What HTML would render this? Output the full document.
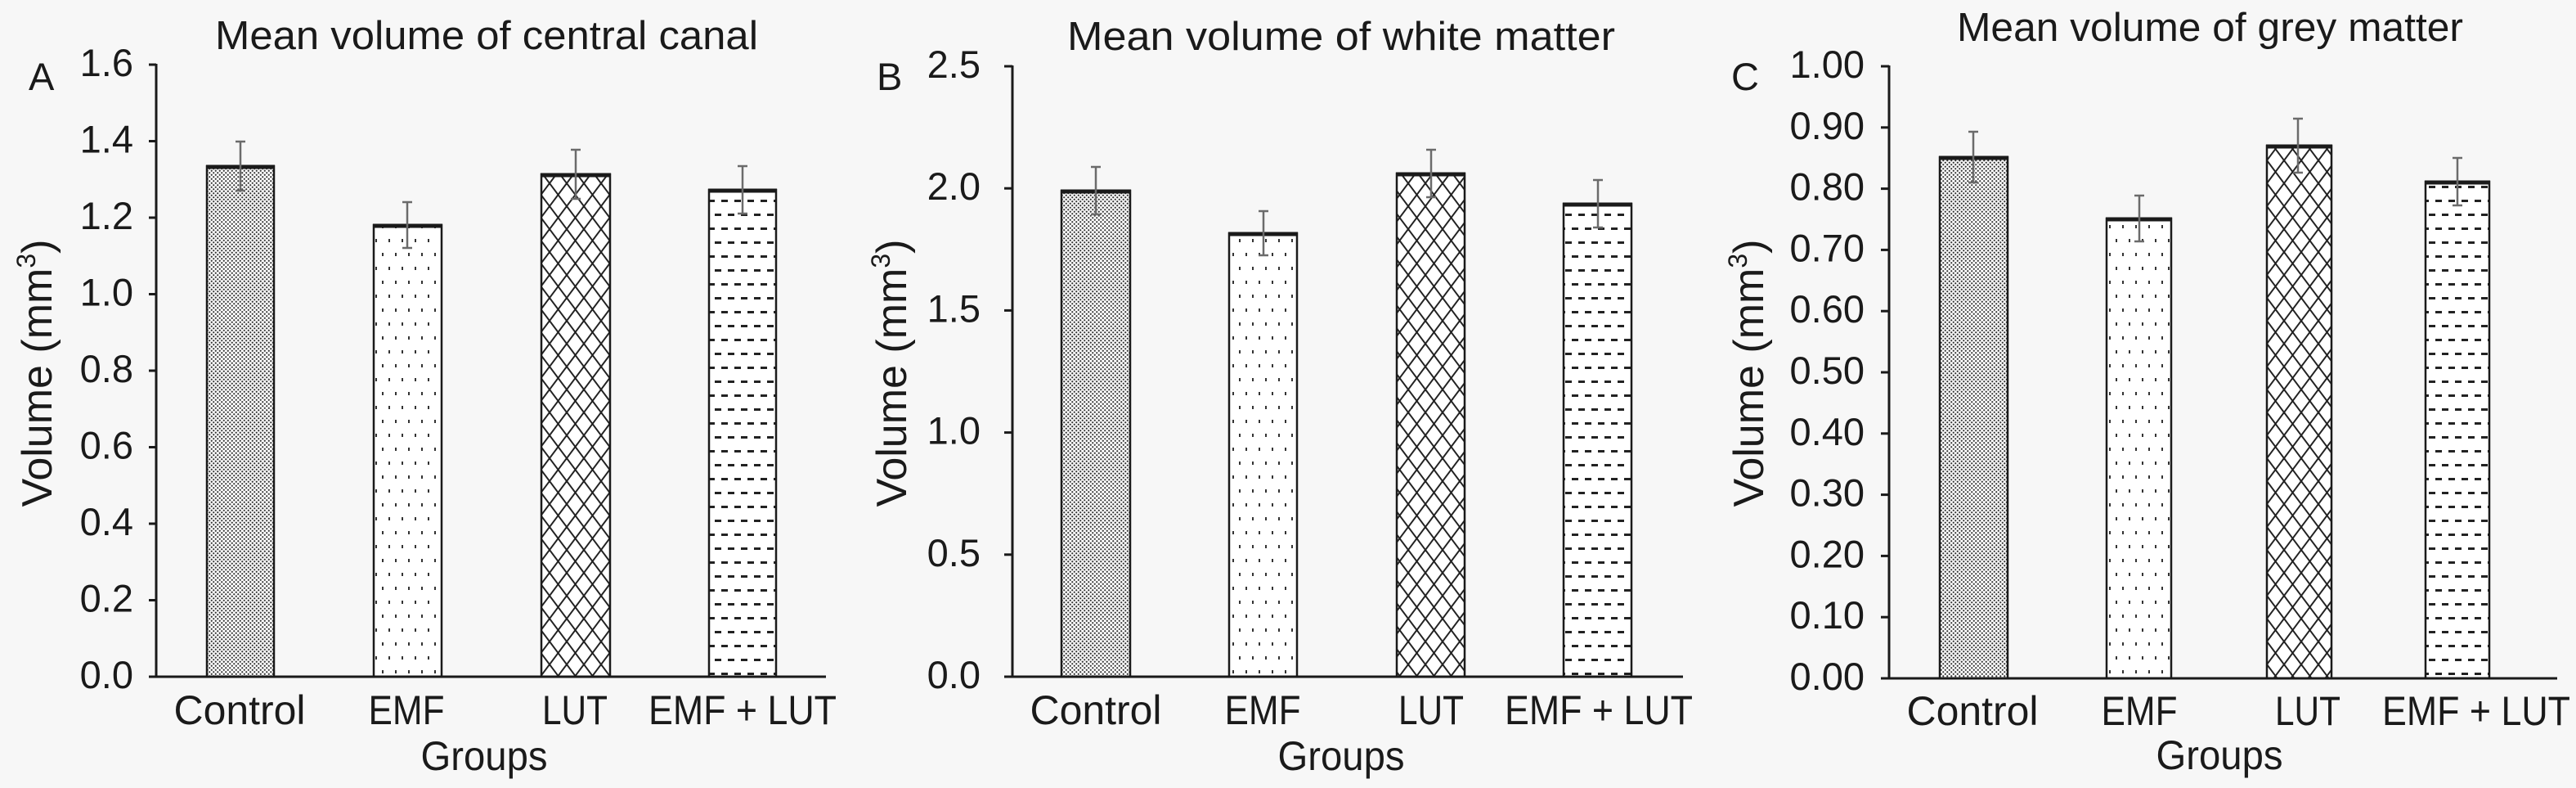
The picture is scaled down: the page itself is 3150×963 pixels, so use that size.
<!DOCTYPE html>
<html>
<head>
<meta charset="utf-8">
<style>
html,body{margin:0;padding:0;background:#f7f7f7;}
svg{display:block;}
text{font-family:"Liberation Sans",sans-serif;fill:#1a1a1a;}
</style>
</head>
<body>
<svg width="3150" height="963" viewBox="0 0 3150 963" xmlns="http://www.w3.org/2000/svg">
<defs>
  <pattern id="pCtrl" patternUnits="userSpaceOnUse" width="5" height="5">
    <rect width="5" height="5" fill="#ffffff"/>
    <circle cx="1.25" cy="1.25" r="1.1" fill="#333"/>
    <circle cx="3.75" cy="3.75" r="1.1" fill="#333"/>
  </pattern>
  <pattern id="pEmf" patternUnits="userSpaceOnUse" width="16" height="34">
    <rect width="16" height="34" fill="#ffffff"/>
    <rect x="3" y="3" width="2" height="4" fill="#333"/>
    <rect x="11" y="20" width="2" height="4" fill="#333"/>
  </pattern>
  <pattern id="pLut" patternUnits="userSpaceOnUse" width="21" height="28">
    <rect width="21" height="28" fill="#ffffff"/>
    <line x1="0" y1="0" x2="21" y2="28" stroke="#222" stroke-width="2"/>
    <line x1="21" y1="0" x2="0" y2="28" stroke="#222" stroke-width="2"/>
  </pattern>
  <pattern id="pBoth" patternUnits="userSpaceOnUse" width="16" height="34">
    <rect width="16" height="34" fill="#ffffff"/>
    <rect x="2" y="6" width="8" height="3" fill="#222"/>
    <rect x="10" y="23" width="8" height="3" fill="#222"/>
    <rect x="-6" y="23" width="8" height="3" fill="#222"/>
  </pattern>
</defs>

<!-- ================= PANEL A ================= -->
<text x="263" y="60" font-size="49" textLength="664" lengthAdjust="spacingAndGlyphs">Mean volume of central canal</text>
<text x="35" y="110" font-size="47">A</text>
<text transform="translate(63,456) rotate(-90)" font-size="52" text-anchor="middle">Volume (mm<tspan font-size="32" dy="-20">3</tspan><tspan dy="20">)</tspan></text>

<g font-size="47" text-anchor="end">
  <text x="163" y="93">1.6</text>
  <text x="163" y="186.5">1.4</text>
  <text x="163" y="280">1.2</text>
  <text x="163" y="373.5">1.0</text>
  <text x="163" y="467">0.8</text>
  <text x="163" y="560.5">0.6</text>
  <text x="163" y="654">0.4</text>
  <text x="163" y="747.5">0.2</text>
  <text x="163" y="841">0.0</text>
</g>
<g stroke="#1a1a1a" stroke-width="3">
  <line x1="182" y1="79" x2="191" y2="79"/>
  <line x1="182" y1="172.5" x2="191" y2="172.5"/>
  <line x1="182" y1="266" x2="191" y2="266"/>
  <line x1="182" y1="359.5" x2="191" y2="359.5"/>
  <line x1="182" y1="453" x2="191" y2="453"/>
  <line x1="182" y1="546.5" x2="191" y2="546.5"/>
  <line x1="182" y1="640" x2="191" y2="640"/>
  <line x1="182" y1="733.5" x2="191" y2="733.5"/>
  <line x1="182" y1="827" x2="191" y2="827"/>
</g>

<!-- bars A -->
<g stroke="#1a1a1a" stroke-width="2.5">
  <rect x="253" y="203" width="82" height="624" fill="url(#pCtrl)"/>
  <rect x="457" y="275" width="83" height="552" fill="url(#pEmf)"/>
  <rect x="662" y="213" width="84" height="614" fill="url(#pLut)"/>
  <rect x="867" y="232" width="82" height="595" fill="url(#pBoth)"/>
</g>
<g stroke="#1a1a1a" stroke-width="5">
  <line x1="252" y1="204" x2="336" y2="204"/>
  <line x1="456" y1="276" x2="541" y2="276"/>
  <line x1="661" y1="214" x2="747" y2="214"/>
  <line x1="866" y1="233" x2="950" y2="233"/>
</g>
<g stroke="#6b6b6b" stroke-width="2.5">
  <line x1="294" y1="173" x2="294" y2="233"/><line x1="288" y1="173" x2="300" y2="173"/><line x1="288" y1="233" x2="300" y2="233"/>
  <line x1="498" y1="247" x2="498" y2="303"/><line x1="492" y1="247" x2="504" y2="247"/><line x1="492" y1="303" x2="504" y2="303"/>
  <line x1="704" y1="183" x2="704" y2="243"/><line x1="698" y1="183" x2="710" y2="183"/><line x1="698" y1="243" x2="710" y2="243"/>
  <line x1="908" y1="203" x2="908" y2="261"/><line x1="902" y1="203" x2="914" y2="203"/><line x1="902" y1="261" x2="914" y2="261"/>
</g>
<line x1="191" y1="78" x2="191" y2="828" stroke="#1a1a1a" stroke-width="3"/>
<line x1="190" y1="827" x2="1010" y2="827" stroke="#1a1a1a" stroke-width="3"/>

<g font-size="50" text-anchor="middle">
  <text x="293" y="885" textLength="161" lengthAdjust="spacingAndGlyphs">Control</text>
  <text x="497" y="885" textLength="93" lengthAdjust="spacingAndGlyphs">EMF</text>
  <text x="703" y="885" textLength="80" lengthAdjust="spacingAndGlyphs">LUT</text>
  <text x="908" y="885" textLength="230" lengthAdjust="spacingAndGlyphs">EMF + LUT</text>
  <text x="592" y="941" textLength="155" lengthAdjust="spacingAndGlyphs">Groups</text>
</g>

<!-- ================= PANEL B ================= -->
<text x="1305" y="61" font-size="49" textLength="670" lengthAdjust="spacingAndGlyphs">Mean volume of white matter</text>
<text x="1072" y="110" font-size="47">B</text>
<text transform="translate(1108,456) rotate(-90)" font-size="52" text-anchor="middle">Volume (mm<tspan font-size="32" dy="-20">3</tspan><tspan dy="20">)</tspan></text>

<g font-size="47" text-anchor="end">
  <text x="1199" y="95">2.5</text>
  <text x="1199" y="244.2">2.0</text>
  <text x="1199" y="393.4">1.5</text>
  <text x="1199" y="542.6">1.0</text>
  <text x="1199" y="691.8">0.5</text>
  <text x="1199" y="841">0.0</text>
</g>
<g stroke="#1a1a1a" stroke-width="3">
  <line x1="1228" y1="81" x2="1238" y2="81"/>
  <line x1="1228" y1="230.2" x2="1238" y2="230.2"/>
  <line x1="1228" y1="379.4" x2="1238" y2="379.4"/>
  <line x1="1228" y1="528.6" x2="1238" y2="528.6"/>
  <line x1="1228" y1="677.8" x2="1238" y2="677.8"/>
  <line x1="1228" y1="827" x2="1238" y2="827"/>
</g>

<g stroke="#1a1a1a" stroke-width="2.5">
  <rect x="1298" y="233" width="84" height="594" fill="url(#pCtrl)"/>
  <rect x="1503" y="285" width="83" height="542" fill="url(#pEmf)"/>
  <rect x="1708" y="212" width="83" height="615" fill="url(#pLut)"/>
  <rect x="1912" y="249" width="83" height="578" fill="url(#pBoth)"/>
</g>
<g stroke="#1a1a1a" stroke-width="5">
  <line x1="1297" y1="234" x2="1383" y2="234"/>
  <line x1="1502" y1="286" x2="1587" y2="286"/>
  <line x1="1707" y1="213" x2="1792" y2="213"/>
  <line x1="1911" y1="250" x2="1996" y2="250"/>
</g>
<g stroke="#6b6b6b" stroke-width="2.5">
  <line x1="1340" y1="204" x2="1340" y2="262"/><line x1="1334" y1="204" x2="1346" y2="204"/><line x1="1334" y1="262" x2="1346" y2="262"/>
  <line x1="1545" y1="258" x2="1545" y2="312"/><line x1="1539" y1="258" x2="1551" y2="258"/><line x1="1539" y1="312" x2="1551" y2="312"/>
  <line x1="1750" y1="183" x2="1750" y2="241"/><line x1="1744" y1="183" x2="1756" y2="183"/><line x1="1744" y1="241" x2="1756" y2="241"/>
  <line x1="1954" y1="220" x2="1954" y2="278"/><line x1="1948" y1="220" x2="1960" y2="220"/><line x1="1948" y1="278" x2="1960" y2="278"/>
</g>
<line x1="1238" y1="80" x2="1238" y2="828" stroke="#1a1a1a" stroke-width="3"/>
<line x1="1237" y1="827" x2="2058" y2="827" stroke="#1a1a1a" stroke-width="3"/>

<g font-size="50" text-anchor="middle">
  <text x="1340" y="885" textLength="161" lengthAdjust="spacingAndGlyphs">Control</text>
  <text x="1544" y="885" textLength="93" lengthAdjust="spacingAndGlyphs">EMF</text>
  <text x="1750" y="885" textLength="80" lengthAdjust="spacingAndGlyphs">LUT</text>
  <text x="1955" y="885" textLength="230" lengthAdjust="spacingAndGlyphs">EMF + LUT</text>
  <text x="1640" y="941" textLength="155" lengthAdjust="spacingAndGlyphs">Groups</text>
</g>

<!-- ================= PANEL C ================= -->
<text x="2393" y="50" font-size="49" textLength="619" lengthAdjust="spacingAndGlyphs">Mean volume of grey matter</text>
<text x="2117" y="110" font-size="47">C</text>
<text transform="translate(2156,456) rotate(-90)" font-size="52" text-anchor="middle">Volume (mm<tspan font-size="32" dy="-20">3</tspan><tspan dy="20">)</tspan></text>

<g font-size="47" text-anchor="end">
  <text x="2280" y="95">1.00</text>
  <text x="2280" y="169.8">0.90</text>
  <text x="2280" y="244.6">0.80</text>
  <text x="2280" y="319.4">0.70</text>
  <text x="2280" y="394.2">0.60</text>
  <text x="2280" y="469">0.50</text>
  <text x="2280" y="543.8">0.40</text>
  <text x="2280" y="618.6">0.30</text>
  <text x="2280" y="693.4">0.20</text>
  <text x="2280" y="768.2">0.10</text>
  <text x="2280" y="843">0.00</text>
</g>
<g stroke="#1a1a1a" stroke-width="3">
  <line x1="2300" y1="81" x2="2310" y2="81"/>
  <line x1="2300" y1="155.8" x2="2310" y2="155.8"/>
  <line x1="2300" y1="230.6" x2="2310" y2="230.6"/>
  <line x1="2300" y1="305.4" x2="2310" y2="305.4"/>
  <line x1="2300" y1="380.2" x2="2310" y2="380.2"/>
  <line x1="2300" y1="455" x2="2310" y2="455"/>
  <line x1="2300" y1="529.8" x2="2310" y2="529.8"/>
  <line x1="2300" y1="604.6" x2="2310" y2="604.6"/>
  <line x1="2300" y1="679.4" x2="2310" y2="679.4"/>
  <line x1="2300" y1="754.2" x2="2310" y2="754.2"/>
  <line x1="2300" y1="829" x2="2310" y2="829"/>
</g>

<g stroke="#1a1a1a" stroke-width="2.5">
  <rect x="2372" y="192" width="83" height="637" fill="url(#pCtrl)"/>
  <rect x="2576" y="267" width="79" height="562" fill="url(#pEmf)"/>
  <rect x="2772" y="178" width="79" height="651" fill="url(#pLut)"/>
  <rect x="2966" y="222" width="78" height="607" fill="url(#pBoth)"/>
</g>
<g stroke="#1a1a1a" stroke-width="5">
  <line x1="2371" y1="193" x2="2456" y2="193"/>
  <line x1="2575" y1="268" x2="2656" y2="268"/>
  <line x1="2771" y1="179" x2="2852" y2="179"/>
  <line x1="2965" y1="223" x2="3045" y2="223"/>
</g>
<g stroke="#6b6b6b" stroke-width="2.5">
  <line x1="2413" y1="161" x2="2413" y2="223"/><line x1="2407" y1="161" x2="2419" y2="161"/><line x1="2407" y1="223" x2="2419" y2="223"/>
  <line x1="2616" y1="239" x2="2616" y2="295"/><line x1="2610" y1="239" x2="2622" y2="239"/><line x1="2610" y1="295" x2="2622" y2="295"/>
  <line x1="2810" y1="145" x2="2810" y2="211"/><line x1="2804" y1="145" x2="2816" y2="145"/><line x1="2804" y1="211" x2="2816" y2="211"/>
  <line x1="3005" y1="193" x2="3005" y2="251"/><line x1="2999" y1="193" x2="3011" y2="193"/><line x1="2999" y1="251" x2="3011" y2="251"/>
</g>
<line x1="2310" y1="80" x2="2310" y2="830" stroke="#1a1a1a" stroke-width="3"/>
<line x1="2309" y1="829" x2="3127" y2="829" stroke="#1a1a1a" stroke-width="3"/>

<g font-size="50" text-anchor="middle">
  <text x="2412" y="886" textLength="161" lengthAdjust="spacingAndGlyphs">Control</text>
  <text x="2616" y="886" textLength="93" lengthAdjust="spacingAndGlyphs">EMF</text>
  <text x="2822" y="886" textLength="80" lengthAdjust="spacingAndGlyphs">LUT</text>
  <text x="3028" y="886" textLength="230" lengthAdjust="spacingAndGlyphs">EMF + LUT</text>
  <text x="2714" y="940" textLength="155" lengthAdjust="spacingAndGlyphs">Groups</text>
</g>
</svg>
</body>
</html>
